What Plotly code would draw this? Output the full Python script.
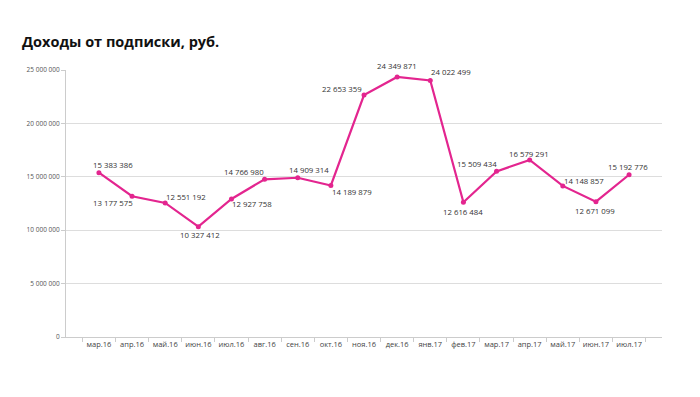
import plotly.graph_objects as go

months = ["мар.16", "апр.16", "май.16", "июн.16", "июл.16", "авг.16", "сен.16", "окт.16", "ноя.16",
          "дек.16", "янв.17", "фев.17", "мар.17", "апр.17", "май.17", "июн.17", "июл.17"]
revenue = [15383386, 13177575, 12551192, 10327412, 12927758, 14766980, 14909314, 14189879, 22653359,
           24349871, 24022499, 12616484, 15509434, 16579291, 14148857, 12671099, 15192776]
y_ticks = [0, 5000000, 10000000, 15000000, 20000000, 25000000]

# label offsets (pixels) relative to each point
label_dx = [14, -19, 21, 2, 21, -21, 11, 21, -22, 0, 21, 0, -20, -1, 21, -1, -1]
label_dy = [8, -7, 6, -8, -5, 7, 8, -7, 6, 11, 8, -10, 7, 6, 5, -9, 8]

def fmt(v):
    return f"{v:,}".replace(",", " ")

LINE = "#E3258F"
fig = go.Figure()
fig.add_trace(go.Scatter(
    x=months, y=revenue, mode="lines+markers",
    line=dict(color=LINE, width=2.2),
    marker=dict(color=LINE, size=5),
    cliponaxis=False, hoverinfo="skip"))

for m, v, dx, dy in zip(months, revenue, label_dx, label_dy):
    fig.add_annotation(x=m, y=v, text=fmt(v), showarrow=False, xshift=dx, yshift=dy,
                       font=dict(family="Open Sans, Liberation Sans, sans-serif", size=7.8, color="#333333"))

fig.update_layout(
    width=700, height=397,
    margin=dict(l=58, r=46, t=62, b=68, autoexpand=False),
    paper_bgcolor="white", plot_bgcolor="white",
    showlegend=False,
    title=dict(text="<b>Доходы от подписки, руб.</b>", x=14/700, xanchor="left", y=1-34/397, yanchor="middle",
               font=dict(family="Open Sans, Noto Sans, sans-serif", size=14.5, color="#111111")),
    xaxis=dict(type="category", showgrid=False, showline=True, linecolor="#cccccc", linewidth=1,
               ticks="outside", tickson="boundaries", ticklen=4, tickcolor="#cccccc", tickangle=0,
               automargin=False,
               tickfont=dict(family="Open Sans, Liberation Sans, sans-serif", size=7.5, color="#444444"),
               fixedrange=True),
    yaxis=dict(range=[0, 25000000], tickvals=y_ticks, ticktext=[fmt(v) for v in y_ticks],
               showgrid=True, gridcolor="#dddddd", gridwidth=1, zeroline=False, automargin=False,
               showline=True, linecolor="#cccccc", linewidth=1, ticks="outside", ticklen=4, tickcolor="#cccccc",
               tickfont=dict(family="Open Sans, Liberation Sans, sans-serif", size=6.5, color="#555555"),
               fixedrange=True),
)
fig.write_html("out.html")
